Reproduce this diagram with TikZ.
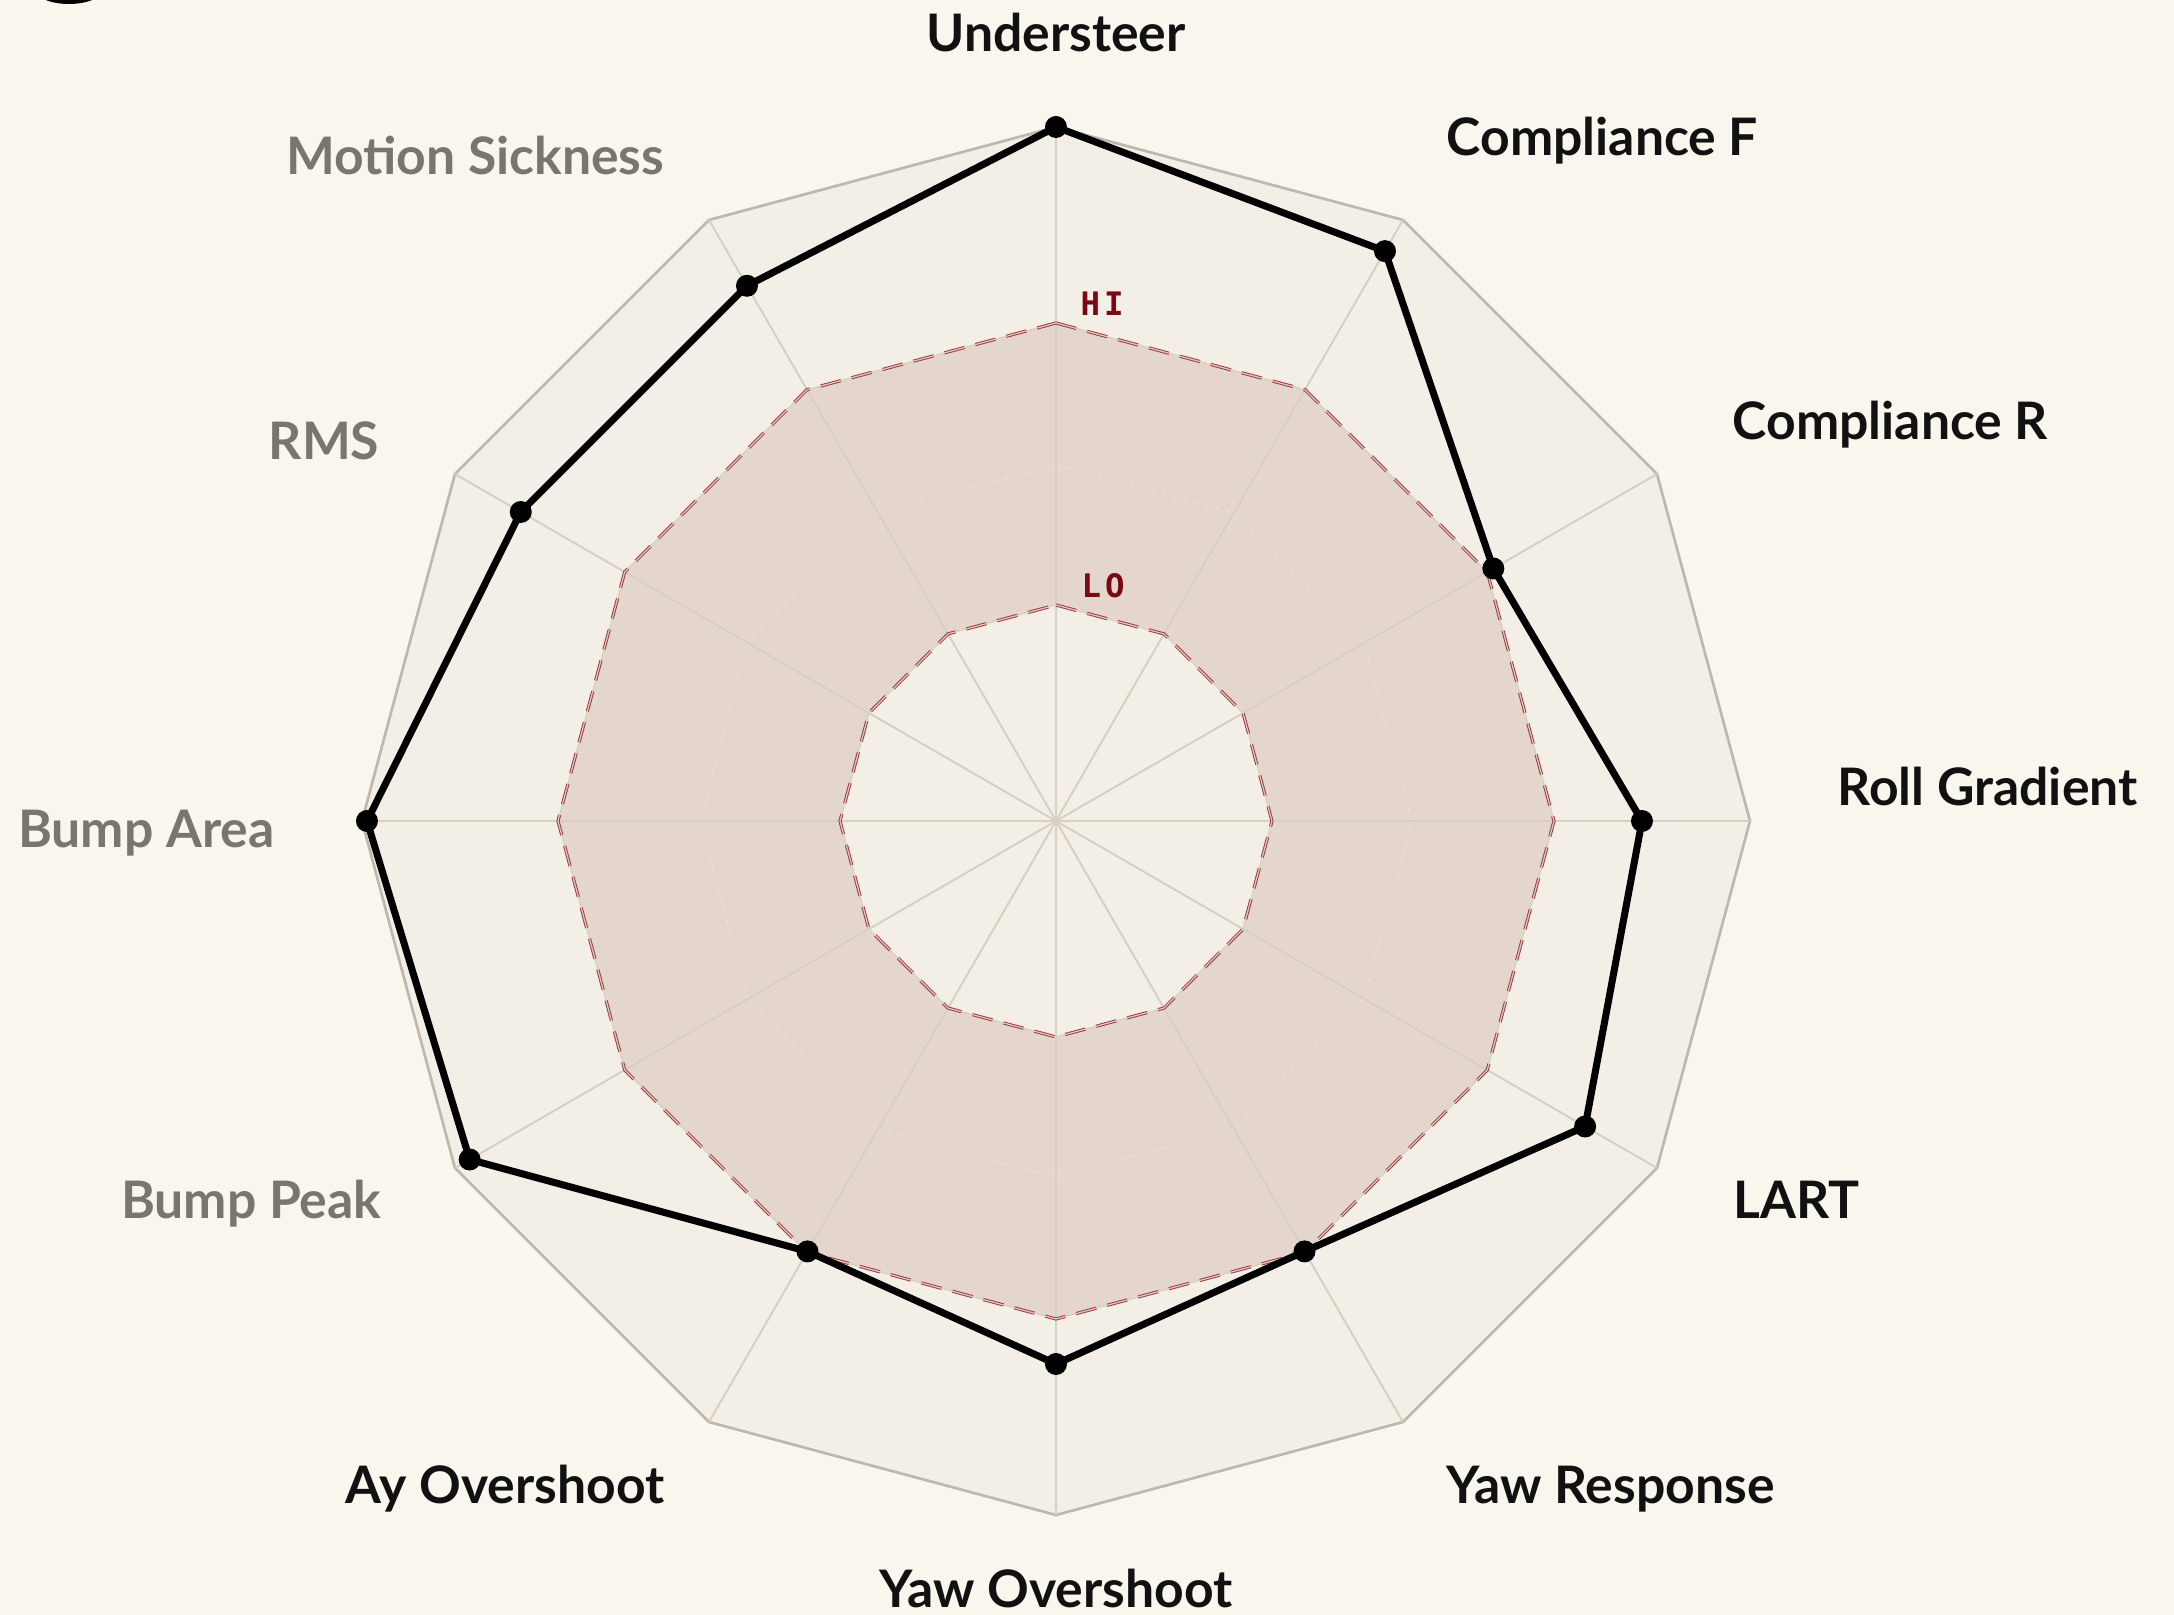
\documentclass[tikz,border=0pt]{standalone}
\usepackage{fontspec}
\setmainfont{Lato}
\newfontfamily\tagfont{DejaVu Sans Mono}
\usepackage{tikz}

\definecolor{paper}{HTML}{F9F6EE}
\definecolor{ringfill}{HTML}{F3EFE6}
\definecolor{ringedge}{HTML}{BDB8AB}
\definecolor{spokeline}{HTML}{D6D0C2}
\definecolor{bandfill}{HTML}{E4D6CD}
\definecolor{banddot}{HTML}{E9DED6}
\definecolor{limitred}{HTML}{A3363F}
\definecolor{tagred}{HTML}{7B0614}
\definecolor{labelink}{HTML}{111111}
\definecolor{labelgray}{HTML}{7A7570}

\begin{document}
\begin{tikzpicture}[x=0.01cm, y=0.01cm,
    axislabel/.style={inner sep=0pt, text=labelink,
        font=\bfseries\fontsize{14.7}{18}\selectfont},
    mutedlabel/.style={axislabel, text=labelgray},
    limittag/.style={inner sep=0pt, anchor=base west, text=tagred,
        font=\tagfont\bfseries\fontsize{9.2}{11}\selectfont},
    spoke/.style={spokeline, line width=0.55pt},
    limitline/.style={limitred, line width=0.9pt, dash pattern=on 0.21cm off 0.11cm},
    limitcore/.style={spokeline, line width=0.35pt},
    trace/.style={black, line width=2pt, line join=round},
    dot/.style={black}]

    % page
    \useasboundingbox (-1056,-794) rectangle (1118,821);
    \fill[paper] (-1056,-794) rectangle (1118,821);
    \begin{scope}
        \clip (-1056,-794) rectangle (1118,821);
        \fill[black] (-987,832) ellipse (34 and 15);
    \end{scope}

    \coordinate (c) at (0,0);

    % outer ring
    \draw[ringedge, line width=0.75pt, fill=ringfill]
        (90:694) \foreach \a in {60,30,...,-240} { -- (\a:694) } -- cycle;

    % band between LO and HI
    \fill[bandfill, even odd rule]
        (90:498) \foreach \a in {60,30,...,-240} { -- (\a:498) } -- cycle
        (90:216) \foreach \a in {60,30,...,-240} { -- (\a:216) } -- cycle;
    \draw[banddot, line width=0.5pt, dash pattern=on 0.04cm off 0.07cm]
        (90:356) \foreach \a in {60,30,...,-240} { -- (\a:356) } -- cycle;

    % spokes
    \foreach \a in {90,60,...,-240}
        \draw[spoke] (c) -- (\a:694);

    % HI / LO limits
    \foreach \r in {498,216} {
        \draw[limitline] (90:\r) \foreach \a in {60,30,...,-240} { -- (\a:\r) } -- cycle;
        \draw[limitcore] (90:\r) \foreach \a in {60,30,...,-240} { -- (\a:\r) } -- cycle;
    }
    \node[limittag] (hi) at (24,505) {H\hspace{0.04cm}I};
    \node[limittag] (lo) at (25,223) {L\hspace{0.04cm}O};

    % scores
    \coordinate (understeer) at (90:694);
    \coordinate (complf) at (60:658);
    \coordinate (complr) at (30:505);
    \coordinate (rollgrad) at (0:586);
    \coordinate (lart) at (-30:611);
    \coordinate (yawresp) at (-60:497);
    \coordinate (yawover) at (-90:543);
    \coordinate (ayover) at (-120:497);
    \coordinate (bumppeak) at (-150:677);
    \coordinate (bumparea) at (180:689);
    \coordinate (rms) at (150:618);
    \coordinate (sickness) at (120:618);

    \draw[trace] (understeer) -- (complf) -- (complr) -- (rollgrad) -- (lart)
        -- (yawresp) -- (yawover) -- (ayover) -- (bumppeak) -- (bumparea)
        -- (rms) -- (sickness) -- cycle;
    \foreach \p in {understeer,complf,complr,rollgrad,lart,yawresp,
                    yawover,ayover,bumppeak,bumparea,rms,sickness}
        \fill[dot] (\p) circle (11);

    % axis names
    \node[axislabel, anchor=base] (lundersteer) at (0,769) {Understeer};
    \node[axislabel, anchor=base west] (lcomplf) at (390,665) {Compliance F};
    \node[axislabel, anchor=base west] (lcomplr) at (676,381) {Compliance R};
    \node[axislabel, anchor=base west] (lrollgrad) at (781,15) {Roll Gradient};
    \node[axislabel, anchor=base west] (llart) at (677,-398) {LART};
    \node[axislabel, anchor=base west] (lyawresp) at (390,-683) {Yaw Response};
    \node[axislabel, anchor=base] (lyawover) at (0,-787) {Yaw Overshoot};
    \node[axislabel, anchor=base east] (layover) at (-391,-683) {Ay Overshoot};
    \node[mutedlabel, anchor=base east] (lbumppeak) at (-674,-398) {Bump Peak};
    \node[mutedlabel, anchor=base east] (lbumparea) at (-781,-27) {Bump Area};
    \node[mutedlabel, anchor=base east] (lrms) at (-676,361) {RMS};
    \node[mutedlabel, anchor=base east] (lsickness) at (-391,646) {Motion Sickness};
\end{tikzpicture}
\end{document}
